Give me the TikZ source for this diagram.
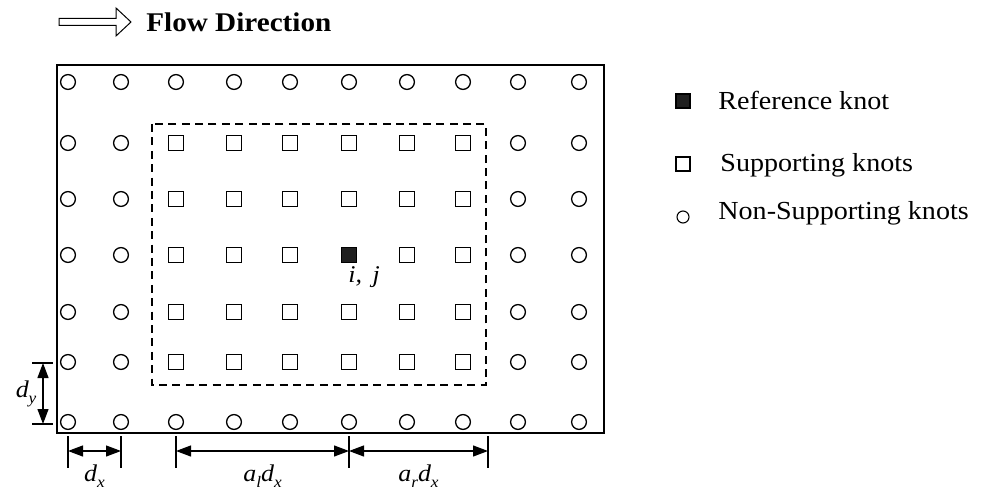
\documentclass[tikz,border=0pt]{standalone}
\usepackage{fontspec}
\setmainfont[FakeStretch=1.08]{Liberation Serif}
\usetikzlibrary{positioning,calc,arrows.meta}

\newcommand{\lowsub}[1]{\raisebox{-0.55ex}{\fontsize{8}{9}\selectfont\itshape #1}}

\tikzset{
  nsknot/.style={draw,circle,inner sep=0pt,minimum size=7.4pt,line width=0.65pt},
  sknot/.style={draw,rectangle,inner sep=0pt,minimum size=7.8pt,line width=0.65pt},
  rknot/.style={sknot,fill=black!88},
  dimline/.style={line width=0.6pt},
  dimarrow/.style={line width=0.6pt,{Triangle[length=7.5pt,width=5.5pt]}-{Triangle[length=7.5pt,width=5.5pt]}},
  dimlabel/.style={font=\fontsize{12}{14}\selectfont\itshape,inner sep=0pt},
  legtext/.style={font=\fontsize{13}{15}\selectfont,anchor=base west,inner sep=0pt}
}

\begin{document}
\begin{tikzpicture}[x=0.5pt,y=-0.5pt]
\useasboundingbox (0,0) rectangle (983,491);

% flow direction
\draw[line width=0.5pt] (59,18.5) -- (116,18.5) -- (116,8) -- (131,22) -- (116,36) -- (116,25.5) -- (59,25.5) -- cycle;
\node[font=\fontsize{13.5}{15}\selectfont\bfseries,anchor=base west,inner sep=0pt] (flow) at (146,32) {Flow Direction};

% domain and support region
\draw[line width=0.75pt] (57,65) rectangle (604,433);
\draw[line width=0.6pt,dash pattern=on 4pt off 2.7pt] (152,124) coordinate (sup-nw) rectangle (486,385) coordinate (sup-se);

% knots
\foreach \x [count=\i] in {68,121,176,234,290,349,407,463,518,579}{
  \foreach \y [count=\j] in {82,143,199,255,312,362,422}{
    \pgfmathtruncatemacro{\kind}{((\i>2)&&(\i<9)&&(\j>1)&&(\j<7)) + ((\i==6)&&(\j==4))}
    \ifcase\kind \node[nsknot] (k-\i-\j) at (\x,\y) {};
    \or \node[sknot] (k-\i-\j) at (\x,\y) {};
    \or \node[rknot] (k-\i-\j) at (\x,\y) {};
    \fi
  }
}
\node[dimlabel,anchor=north west] (ij) at ($(k-6-4.south)+(-1,3)$) {i,~\,j};

% dimensions
\foreach \n in {1,2,3,6}{
  \draw[dimline] (k-\n-7 |- 0,436) -- (k-\n-7 |- 0,468);
}
\draw[dimline] (488,436) coordinate (ar-top) -- (488,468);
\draw[dimarrow] (k-1-7 |- 0,451) -- node[dimlabel,below=6.5pt] (dx) {d\lowsub{x}} (k-2-7 |- 0,451);
\draw[dimarrow] (k-3-7 |- 0,451) -- node[dimlabel,below=6.5pt] (al) {a\lowsub{l}d\lowsub{x}} (k-6-7 |- 0,451);
\draw[dimarrow] (k-6-7 |- 0,451) -- node[dimlabel,below=6.5pt] (ar) {a\lowsub{r}d\lowsub{x}} (ar-top |- 0,451);

\draw[dimline] (32,363) -- (53,363);
\draw[dimline] (32,424) -- (53,424);
\draw[dimarrow] (43,363) -- node[dimlabel,left=3pt] (dy) {d\lowsub{y}} (43,424);

% legend
\node[rknot,minimum size=7pt] (leg-r) at (683,101) {};
\node[sknot,minimum size=7pt] (leg-s) at (683,164) {};
\node[nsknot,minimum size=6pt,line width=0.55pt] (leg-n) at (683,217) {};
\node[legtext] (leg-r-txt) at ($(leg-r)+(35,9)$) {Reference knot};
\node[legtext] (leg-s-txt) at ($(leg-s)+(37,8)$) {Supporting knots};
\node[legtext] (leg-n-txt) at ($(leg-n)+(35,3)$) {Non-Supporting knots};
\end{tikzpicture}
\end{document}
